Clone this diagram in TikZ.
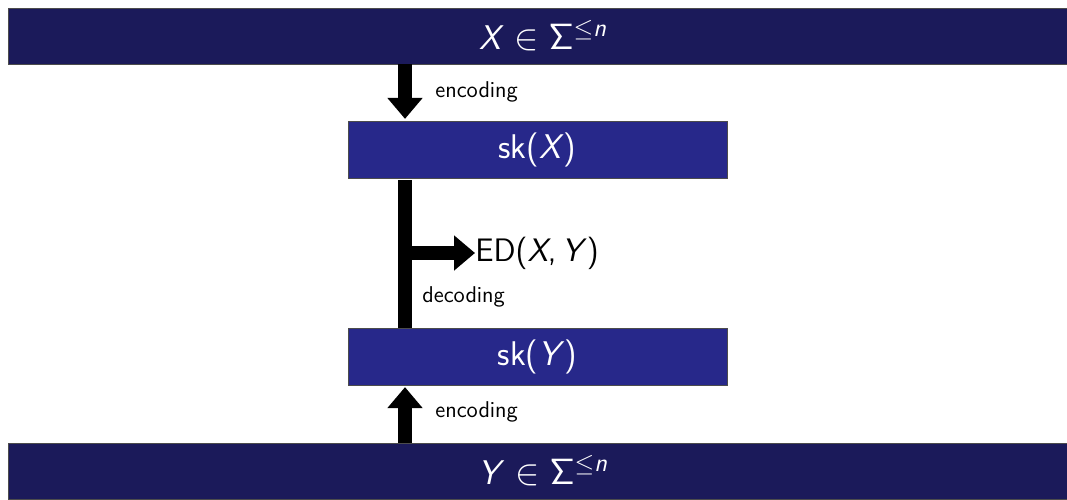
\documentclass[tikz,border=0pt]{standalone}
\usepackage{xcolor}
\usepackage{tikz}
\usetikzlibrary{arrows.meta}
\usepackage{amsmath}
\DeclareMathAlphabet{\mathsfup}{OT1}{cmss}{m}{n}
\DeclareMathAlphabet{\mathsfsl}{OT1}{cmss}{m}{sl}
\definecolor{skdark}{HTML}{1B1A5A}
\definecolor{skblue}{HTML}{27288A}
\tikzset{
  bar/.style={fill=skdark,draw=black!70,line width=0.4pt,text=white,anchor=west,
    minimum width=21.4cm,minimum height=1.12cm,font=\sffamily\fontsize{19.5}{22}\selectfont},
  skbox/.style={fill=skblue,draw=black!70,line width=0.4pt,text=white,
    minimum width=7.58cm,minimum height=1.14cm,font=\sffamily\fontsize{19.5}{22}\selectfont},
  fat/.style={line width=0.28cm},
  fatarrow/.style={fat,-{Triangle[width=0.68cm,length=0.42cm]}},
  lbl/.style={anchor=west,inner sep=0pt,font=\sffamily\fontsize{13}{15}\selectfont}
}
\begin{document}
\begin{tikzpicture}[x=1cm,y=1cm]
  \useasboundingbox (0,0) rectangle (21.34,-9.98);
  \node[bar] (xin) at (0.16,-0.72) {\textsl{X} $\in\mathsfup{\Sigma}^{\le\mathsfsl{n}}$};
  \node[bar] (yin) at (0.16,-9.42) {\textsl{Y} $\in\mathsfup{\Sigma}^{\le\mathsfsl{n}}$};
  \node[skbox] (skx) at (10.75,-2.99) {sk(\textsl{X})};
  \node[skbox] (sky) at (10.75,-7.13) {sk(\textsl{Y})};
  \coordinate (ax) at (8.1,0);
  \coordinate (br) at (8.1,-5.06);
  \node[anchor=west,inner sep=0pt,font=\sffamily\fontsize{18.5}{21}\selectfont] (ed) at (9.5,-5.06) {ED(\textsl{X},\,\textsl{Y})};
  % encode / decode arrows
  \draw[fatarrow] (xin.south -| ax) -- ([yshift=1pt]skx.north -| ax);
  \draw[fatarrow] (yin.north -| ax) -- ([yshift=-1pt]sky.south -| ax);
  \draw[fat] ([yshift=-1pt]skx.south -| ax) -- (sky.north -| ax);
  \draw[fatarrow] (br) -- (ed.west);
  \node[lbl] (enc1) at (8.7,-1.84) {encoding};
  \node[lbl] (enc2) at (8.7,-8.24) {encoding};
  \node[lbl] (dec) at (8.44,-5.94) {decoding};
\end{tikzpicture}
\end{document}
